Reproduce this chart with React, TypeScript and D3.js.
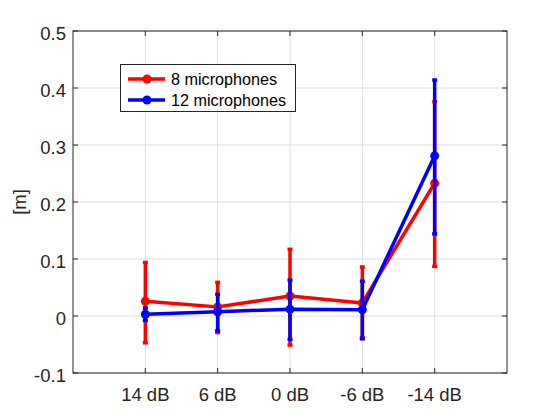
import React from "react";
import * as d3 from "d3";

const categories = ["14 dB", "6 dB", "0 dB", "-6 dB", "-14 dB"];
const yTicks = [-0.1, 0, 0.1, 0.2, 0.3, 0.4, 0.5];
const yTickLabels = ["-0.1", "0", "0.1", "0.2", "0.3", "0.4", "0.5"];

const redMean = [0.026, 0.016, 0.035, 0.023, 0.233];
const redLow = [-0.047, -0.029, -0.051, -0.038, 0.087];
const redHigh = [0.094, 0.059, 0.117, 0.086, 0.376];

const blueMean = [0.003, 0.0075, 0.012, 0.011, 0.281];
const blueLow = [-0.008, -0.026, -0.041, -0.040, 0.144];
const blueHigh = [0.014, 0.038, 0.063, 0.061, 0.414];

const seriesNames = ["8 microphones", "12 microphones"];
const seriesColors = ["#ff0000", "#0000ff"];

const W = 560, H = 420;
const L = 73, R = 507, T = 31, B = 373;
const FONT = "'Liberation Sans', Arial, Helvetica, sans-serif";
const AX = "#262626";

export default function App() {
  const x = d3.scaleLinear().domain([0, categories.length + 1]).range([L, R]);
  const y = d3.scaleLinear().domain([-0.1, 0.5]).range([B, T]);
  const series = [
    { mean: redMean, low: redLow, high: redHigh },
    { mean: blueMean, low: blueLow, high: blueHigh },
  ];
  const line = d3.line<number>().x((_, i) => x(i + 1)).y((d) => y(d));
  const tickLen = 5;
  const capW = 5;
  const lw = 3.5;

  return (
    <svg width={W} height={H} style={{ position: "absolute", left: 0, top: 0, background: "#fff" }} fontFamily={FONT}>
      <rect x={0} y={0} width={W} height={H} fill="#fff" />
      {categories.map((c, i) => (
        <line key={"gx" + c} x1={x(i + 1)} x2={x(i + 1)} y1={T} y2={B} stroke="#dfdfdf" strokeWidth={1} />
      ))}
      {yTicks.map((t) => (
        <line key={"gy" + t} x1={L} x2={R} y1={y(t)} y2={y(t)} stroke="#dfdfdf" strokeWidth={1} />
      ))}
      {series.map((s, si) => (
        <g key={"s" + si} stroke={seriesColors[si]} fill={seriesColors[si]}>
          {s.mean.map((m, i) => (
            <g key={i}>
              <line x1={x(i + 1)} x2={x(i + 1)} y1={y(s.low[i])} y2={y(s.high[i])} strokeWidth={lw} />
              <line x1={x(i + 1) - capW / 2} x2={x(i + 1) + capW / 2} y1={y(s.low[i])} y2={y(s.low[i])} strokeWidth={lw} />
              <line x1={x(i + 1) - capW / 2} x2={x(i + 1) + capW / 2} y1={y(s.high[i])} y2={y(s.high[i])} strokeWidth={lw} />
            </g>
          ))}
          <path d={line(s.mean) || ""} fill="none" strokeWidth={lw} strokeLinejoin="round" />
          {s.mean.map((m, i) => (
            <circle key={"c" + i} cx={x(i + 1)} cy={y(m)} r={4.5} stroke="none" />
          ))}
        </g>
      ))}
      <rect x={L} y={T} width={R - L} height={B - T} fill="none" stroke={AX} strokeWidth={1} />
      {yTicks.map((t, i) => (
        <g key={"yt" + t}>
          <line x1={L} x2={L + tickLen} y1={y(t)} y2={y(t)} stroke={AX} />
          <line x1={R} x2={R - tickLen} y1={y(t)} y2={y(t)} stroke={AX} />
          <text x={L - 7} y={y(t) + 8.5} textAnchor="end" fontSize={18.5} fill={AX}>
            {yTickLabels[i]}
          </text>
        </g>
      ))}
      {categories.map((c, i) => (
        <g key={"xt" + c}>
          <line x1={x(i + 1)} x2={x(i + 1)} y1={B} y2={B - tickLen} stroke={AX} />
          <line x1={x(i + 1)} x2={x(i + 1)} y1={T} y2={T + tickLen} stroke={AX} />
          <text x={x(i + 1)} y={400.5} textAnchor="middle" fontSize={18.5} fill={AX}>
            {c}
          </text>
        </g>
      ))}
      <text transform={`translate(26, ${(T + B) / 2}) rotate(-90)`} textAnchor="middle" fontSize={18.5} fill={AX}>
        [m]
      </text>
      <rect x={120.5} y={64.5} width={175} height={47} fill="#fff" stroke={AX} strokeWidth={1} />
      {seriesNames.map((n, i) => {
        const ly = 79 + i * 21;
        return (
          <g key={"lg" + i}>
            <line x1={128} x2={165} y1={ly} y2={ly} stroke={seriesColors[i]} strokeWidth={lw} />
            <circle cx={147} cy={ly} r={4.5} fill={seriesColors[i]} />
            <text x={171} y={ly + 6} fontSize={16.2} fill="#000">
              {n}
            </text>
          </g>
        );
      })}
    </svg>
  );
}
